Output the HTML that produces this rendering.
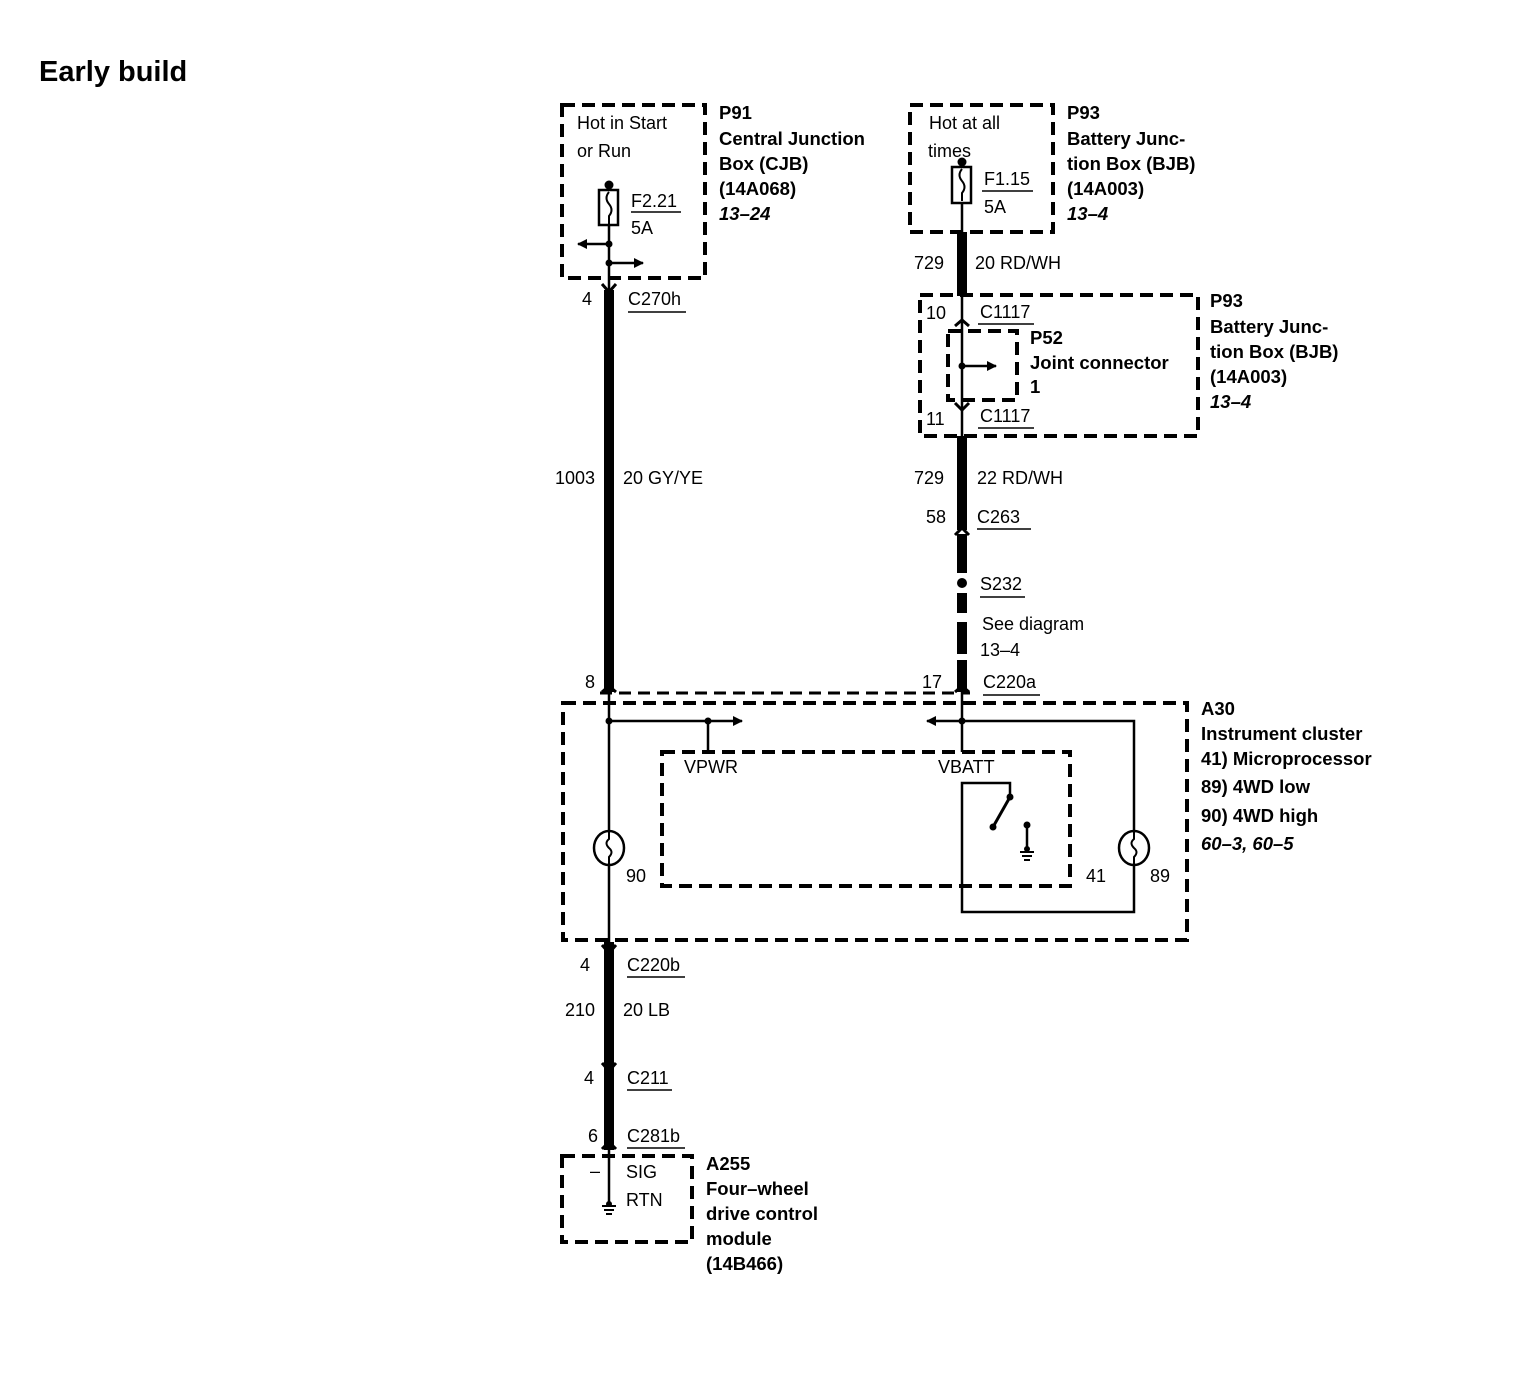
<!DOCTYPE html>
<html><head><meta charset="utf-8"><style>
html,body{margin:0;padding:0;background:#fff}
svg{display:block}
text{font-family:"Liberation Sans",Arial,sans-serif;font-size:18px;fill:#000}
.b{font-weight:bold;font-size:18.5px}
.i{font-weight:bold;font-style:italic;font-size:18.5px}
</style></head><body>
<svg width="1534" height="1376" viewBox="0 0 1534 1376" xmlns="http://www.w3.org/2000/svg">
<defs>
<marker id="ar" markerWidth="10" markerHeight="10" refX="9" refY="5" orient="auto" markerUnits="userSpaceOnUse"><path d="M0,0 L10,5 L0,10 z" fill="#000"/></marker>
</defs>
<text x="39" y="81" class="b" style="font-size:29px">Early build</text>

<g fill="none" stroke="#000" stroke-width="4" stroke-dasharray="13,7">
<rect x="562" y="105" width="143" height="173"/>
<rect x="910" y="105" width="143" height="127"/>
<rect x="920" y="295" width="278" height="141"/>
<rect x="948" y="331" width="69" height="69"/>
<rect x="563" y="703" width="624" height="237"/>
<rect x="662" y="752" width="408" height="134"/>
<rect x="562" y="1156" width="130" height="86"/>
</g>
<line x1="600" y1="693" x2="970" y2="693" stroke="#000" stroke-width="3" stroke-dasharray="12,7"/>

<g stroke="#000" fill="none">
<line x1="609" y1="185" x2="609" y2="290" stroke-width="2.5"/>
<rect x="599" y="190" width="19" height="35" stroke-width="2.5" fill="#fff"/>
<path d="M609,192 q-5,6 0,12 q5,6 0,12 v8" stroke-width="2"/>
<line x1="631" y1="212" x2="681" y2="212" stroke-width="1.5"/>
<line x1="609" y1="244" x2="578" y2="244" stroke-width="2.5" marker-end="url(#ar)"/>
<line x1="609" y1="263" x2="643" y2="263" stroke-width="2.5" marker-end="url(#ar)"/>
<line x1="609" y1="290" x2="609" y2="692" stroke-width="10"/>
<path d="M602,284 L609,292 L616,284" stroke-width="3"/>
<path d="M602,692 L609,686 L616,692" stroke-width="3"/>
<line x1="628" y1="312" x2="686" y2="312" stroke-width="1.5"/>
<line x1="962" y1="162" x2="962" y2="232" stroke-width="2.5"/>
<rect x="952" y="167" width="19" height="36" stroke-width="2.5" fill="#fff"/>
<path d="M962,169 q-5,6 0,12 q5,6 0,12 v8" stroke-width="2"/>
<line x1="982" y1="191" x2="1033" y2="191" stroke-width="1.5"/>
<line x1="962" y1="232" x2="962" y2="296" stroke-width="10"/>
<line x1="962" y1="296" x2="962" y2="437" stroke-width="2.5"/>
<path d="M955,326 L962,320 L969,326" stroke-width="3"/>
<path d="M955,403 L962,410 L969,403" stroke-width="3"/>
<line x1="962" y1="366" x2="996" y2="366" stroke-width="2.5" marker-end="url(#ar)"/>
<line x1="978" y1="324" x2="1034" y2="324" stroke-width="1.5"/>
<line x1="978" y1="428" x2="1034" y2="428" stroke-width="1.5"/>
<line x1="962" y1="436" x2="962" y2="530" stroke-width="10"/>
<path d="M955,535 L962,528 L969,535" stroke-width="3"/>
<line x1="977" y1="529" x2="1031" y2="529" stroke-width="1.5"/>
<line x1="962" y1="534" x2="962" y2="573" stroke-width="10"/>
<line x1="962" y1="593" x2="962" y2="613" stroke-width="10"/>
<line x1="962" y1="622" x2="962" y2="654" stroke-width="10"/>
<line x1="962" y1="660" x2="962" y2="692" stroke-width="10"/>
<path d="M955,692 L962,686 L969,692" stroke-width="3"/>
<line x1="980" y1="597" x2="1025" y2="597" stroke-width="1.5"/>
<line x1="983" y1="695" x2="1040" y2="695" stroke-width="1.5"/>
<line x1="609" y1="692" x2="609" y2="945" stroke-width="2.5"/>
<line x1="609" y1="721" x2="742" y2="721" stroke-width="2.5" marker-end="url(#ar)"/>
<line x1="708" y1="721" x2="708" y2="752" stroke-width="2.5"/>
<line x1="962" y1="692" x2="962" y2="752" stroke-width="2.5"/>
<line x1="962" y1="721" x2="927" y2="721" stroke-width="2.5" marker-end="url(#ar)"/>
<polyline points="962,721 1134,721 1134,833" stroke-width="2.5"/>
<polyline points="1134,863 1134,912 962,912 962,783 1010,783 1010,797" stroke-width="2.5"/>
<line x1="1010" y1="797" x2="993" y2="827" stroke-width="3"/>
<line x1="1027" y1="825" x2="1027" y2="850" stroke-width="2.5"/>
<line x1="1020" y1="852" x2="1034" y2="852" stroke-width="2"/>
<line x1="1022" y1="856" x2="1032" y2="856" stroke-width="2"/>
<line x1="1024" y1="860" x2="1030" y2="860" stroke-width="2"/>
<ellipse cx="609" cy="848" rx="15" ry="17" stroke-width="2.5" fill="#fff"/>
<ellipse cx="1134" cy="848" rx="15" ry="17" stroke-width="2.5" fill="#fff"/>
<path d="M609,831 v8 q-5,4 0,9 q5,4 0,9 v8" stroke-width="2"/>
<path d="M1134,831 v8 q-5,4 0,9 q5,4 0,9 v8" stroke-width="2"/>
<line x1="609" y1="942" x2="609" y2="1150" stroke-width="10"/>
<path d="M602,945 L609,953 L616,945" stroke-width="3"/>
<path d="M602,1063 L609,1071 L616,1063" stroke-width="3"/>
<path d="M602,1149 L609,1142 L616,1149" stroke-width="3"/>
<line x1="627" y1="977" x2="685" y2="977" stroke-width="1.5"/>
<line x1="627" y1="1090" x2="672" y2="1090" stroke-width="1.5"/>
<line x1="627" y1="1148" x2="685" y2="1148" stroke-width="1.5"/>
<line x1="609" y1="1150" x2="609" y2="1204" stroke-width="2.5"/>
<line x1="602" y1="1206" x2="616" y2="1206" stroke-width="2"/>
<line x1="604" y1="1210" x2="614" y2="1210" stroke-width="2"/>
<line x1="606" y1="1214" x2="612" y2="1214" stroke-width="2"/>
</g>
<g fill="#000">
<circle cx="609" cy="185" r="4.5"/><circle cx="609" cy="244" r="3.5"/><circle cx="609" cy="263" r="3.5"/>
<circle cx="962" cy="162" r="4.5"/><circle cx="962" cy="366" r="3.5"/>
<circle cx="609" cy="721" r="3.5"/><circle cx="708" cy="721" r="3.5"/><circle cx="962" cy="721" r="3.5"/>
<circle cx="1010" cy="797" r="3.5"/><circle cx="993" cy="827" r="3.5"/><circle cx="1027" cy="825" r="3.5"/><circle cx="1027" cy="849" r="3"/>
<circle cx="609" cy="1204" r="3"/>
</g>
<circle cx="962" cy="583" r="7" fill="#fff"/><circle cx="962" cy="583" r="5" fill="#000"/>
<rect x="955" y="613" width="14" height="9" fill="#fff"/>

<text x="577" y="129">Hot in Start</text>
<text x="577" y="157">or Run</text>
<text x="631" y="207">F2.21</text>
<text x="631" y="234">5A</text>
<text x="719" y="119" class="b">P91</text>
<text x="719" y="145" class="b">Central Junction</text>
<text x="719" y="170" class="b">Box (CJB)</text>
<text x="719" y="195" class="b">(14A068)</text>
<text x="719" y="220" class="i">13–24</text>
<text x="582" y="305">4</text><text x="628" y="305">C270h</text>
<text x="555" y="484">1003</text><text x="623" y="484">20 GY/YE</text>
<text x="585" y="688">8</text>

<text x="929" y="129">Hot at all</text>
<text x="928" y="157">times</text>
<text x="984" y="185">F1.15</text>
<text x="984" y="213">5A</text>
<text x="1067" y="119" class="b">P93</text>
<text x="1067" y="145" class="b">Battery Junc-</text>
<text x="1067" y="170" class="b">tion Box (BJB)</text>
<text x="1067" y="195" class="b">(14A003)</text>
<text x="1067" y="220" class="i">13–4</text>
<text x="914" y="269">729</text><text x="975" y="269">20 RD/WH</text>
<text x="926" y="319">10</text><text x="980" y="318">C1117</text>
<text x="1030" y="344" class="b">P52</text>
<text x="1030" y="369" class="b">Joint connector</text>
<text x="1030" y="393" class="b">1</text>
<text x="926" y="425">11</text><text x="980" y="422">C1117</text>
<text x="1210" y="307" class="b">P93</text>
<text x="1210" y="333" class="b">Battery Junc-</text>
<text x="1210" y="358" class="b">tion Box (BJB)</text>
<text x="1210" y="383" class="b">(14A003)</text>
<text x="1210" y="408" class="i">13–4</text>
<text x="914" y="484">729</text><text x="977" y="484">22 RD/WH</text>
<text x="926" y="523">58</text><text x="977" y="523">C263</text>
<text x="980" y="590">S232</text>
<text x="982" y="630">See diagram</text>
<text x="980" y="656">13–4</text>
<text x="922" y="688">17</text><text x="983" y="688">C220a</text>

<text x="684" y="773">VPWR</text>
<text x="938" y="773">VBATT</text>
<text x="626" y="882">90</text>
<text x="1086" y="882">41</text>
<text x="1150" y="882">89</text>
<text x="1201" y="715" class="b">A30</text>
<text x="1201" y="740" class="b">Instrument cluster</text>
<text x="1201" y="765" class="b">41) Microprocessor</text>
<text x="1201" y="793" class="b">89) 4WD low</text>
<text x="1201" y="822" class="b">90) 4WD high</text>
<text x="1201" y="850" class="i">60–3, 60–5</text>

<text x="580" y="971">4</text><text x="627" y="971">C220b</text>
<text x="565" y="1016">210</text><text x="623" y="1016">20 LB</text>
<text x="584" y="1084">4</text><text x="627" y="1084">C211</text>
<text x="588" y="1142">6</text><text x="627" y="1142">C281b</text>
<text x="590" y="1177">–</text>
<text x="626" y="1178">SIG</text>
<text x="626" y="1206">RTN</text>
<text x="706" y="1170" class="b">A255</text>
<text x="706" y="1195" class="b">Four–wheel</text>
<text x="706" y="1220" class="b">drive control</text>
<text x="706" y="1245" class="b">module</text>
<text x="706" y="1270" class="b">(14B466)</text>
</svg>
</body></html>
